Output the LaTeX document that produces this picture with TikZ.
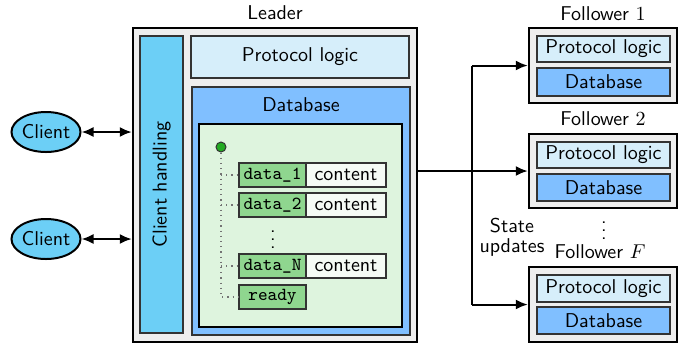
\documentclass[tikz,border=0pt]{standalone}
\usetikzlibrary{fit,arrows.meta,shapes.geometric}
\definecolor{leaderbg}{HTML}{EEEEEE}
\definecolor{chfill}{HTML}{6CCFF6}
\definecolor{plfill}{HTML}{D6EEFA}
\definecolor{dbfill}{HTML}{80BFFF}
\definecolor{greenbg}{HTML}{DEF4DE}
\definecolor{dfill}{HTML}{8FD68F}
\definecolor{cfill}{HTML}{F5FBF5}
\definecolor{dotgreen}{HTML}{22AA22}
\tikzset{
  server/.style={draw=black, line width=1.2pt, fill=leaderbg, inner sep=0pt},
  inbox/.style={draw=black!80, line width=0.7pt, inner sep=0pt},
  plbox/.style={inbox, fill=plfill},
  dbbox/.style={inbox, fill=dbfill},
  chbox/.style={inbox, fill=chfill},
  greenbox/.style={inbox, draw=black, fill=greenbg},
  databox/.style={inbox, fill=dfill},
  contbox/.style={inbox, fill=cfill},
  ttl/.style={inner sep=0pt, font=\ttfamily\fontsize{9.2}{10}\selectfont},
  client/.style={ellipse, draw=black, line width=1pt, fill=chfill, minimum width=34.5pt, minimum height=20pt, inner sep=0pt},
  arr/.style={line width=1pt, -{Latex[length=6pt,width=5pt]}},
  darr/.style={line width=1pt, {Latex[length=6pt,width=5pt]}-{Latex[length=6pt,width=5pt]}},
  tree/.style={black!55, dotted, line width=0.6pt},
  lbl/.style={inner sep=0pt},
}
\begin{document}
\begin{tikzpicture}[x=0.5pt, y=-0.5pt, font=\sffamily]
\useasboundingbox (0,0) rectangle (686,345);
% Leader
\node[server, fit={(133,28) (417,342)}] (leader) {};
\node[lbl] (leadertxt) at (275,13) {Leader};
\node[chbox, fit={(140,36) (183,333)}] (ch) {};
\node[lbl, rotate=90] (chtxt) at (ch.center) {Client handling};
\node[plbox, fit={(191,36) (409,78)}] (lpl) {};
\node[lbl] (lpltxt) at (lpl.center) {Protocol logic};
\node[dbbox, fit={(192,87) (410,335)}] (ldb) {};
\node[lbl] (ldbtxt) at (301,105) {Database};
\node[greenbox, fit={(199,124) (402,327)}] (green) {};
\node[circle, draw=black!80, fill=dotgreen, line width=0.5pt, minimum size=5pt, inner sep=0pt] (dot) at (221,147) {};
\node[databox, fit={(239,163) (306,187)}] (d1) {};
\node[ttl] (d1t) at (d1.center) {data\_1};
\node[contbox, fit={(306,163) (386,187)}] (c1) {};
\node[lbl] (c1t) at (c1.center) {content};
\node[databox, fit={(239,193) (306,217)}] (d2) {};
\node[ttl] (d2t) at (d2.center) {data\_2};
\node[contbox, fit={(306,193) (386,217)}] (c2) {};
\node[lbl] (c2t) at (c2.center) {content};
\node[lbl] (vd1) at (273,234) {$\vdots$};
\node[databox, fit={(239,254) (306,278)}] (dN) {};
\node[ttl] (dNt) at (dN.center) {data\_N};
\node[contbox, fit={(306,254) (386,278)}] (cN) {};
\node[lbl] (cNt) at (cN.center) {content};
\node[databox, fit={(239,285) (306,309)}] (rd) {};
\node[ttl] (rdt) at (rd.center) {ready};
\coordinate (tend) at (221,297);
\draw[tree] (dot.south) -- (tend) -- (rd.west);
\draw[tree] (dot.south |- d1.west) -- (d1.west);
\draw[tree] (dot.south |- d2.west) -- (d2.west);
\draw[tree] (dot.south |- dN.west) -- (dN.west);
% Clients
\node[client] (cl1) at (46,132) {Client};
\node[client] (cl2) at (46,239) {Client};
\draw[darr] (cl1.east) -- (cl1.east -| leader.west);
\draw[darr] (cl2.east) -- (cl2.east -| leader.west);
% Followers
\node[server, fit={(529,28) (677,103)}] (f1) {};
\node[lbl] (f1txt) at (603,14) {Follower $1$};
\node[plbox, fit={(537,36) (670,62)}] (pl1) {};
\node[lbl] (pl1t) at (pl1.center) {Protocol logic};
\node[dbbox, fit={(537,68) (670,96)}] (db1) {};
\node[lbl] (db1t) at (db1.center) {Database};
\node[server, fit={(529,134) (677,208)}] (f2) {};
\node[lbl] (f2txt) at (603,119) {Follower $2$};
\node[plbox, fit={(537,142) (670,168)}] (pl2) {};
\node[lbl] (pl2t) at (pl2.center) {Protocol logic};
\node[dbbox, fit={(537,174) (670,201)}] (db2) {};
\node[lbl] (db2t) at (db2.center) {Database};
\node[lbl] (vd2) at (604,225) {$\vdots$};
\node[server, fit={(529,267) (677,342)}] (f3) {};
\node[lbl] (f3txt) at (600,252) {Follower $F$};
\node[plbox, fit={(537,275) (670,302)}] (pl3) {};
\node[lbl] (pl3t) at (pl3.center) {Protocol logic};
\node[dbbox, fit={(537,307) (670,334)}] (db3) {};
\node[lbl] (db3t) at (db3.center) {Database};
% State updates
\coordinate (v1) at (472,65.5);
\coordinate (v3) at (472,304.5);
\draw[arr] (leader.east |- f2.west) -- (f2.west);
\draw[line width=1pt] (v1) -- (v3);
\draw[arr] (v1) -- (f1.west);
\draw[arr] (v3) -- (f3.west);
\node[lbl, align=center] (su) at (512,237) {State\\[-2pt]updates};
\end{tikzpicture}
\end{document}
